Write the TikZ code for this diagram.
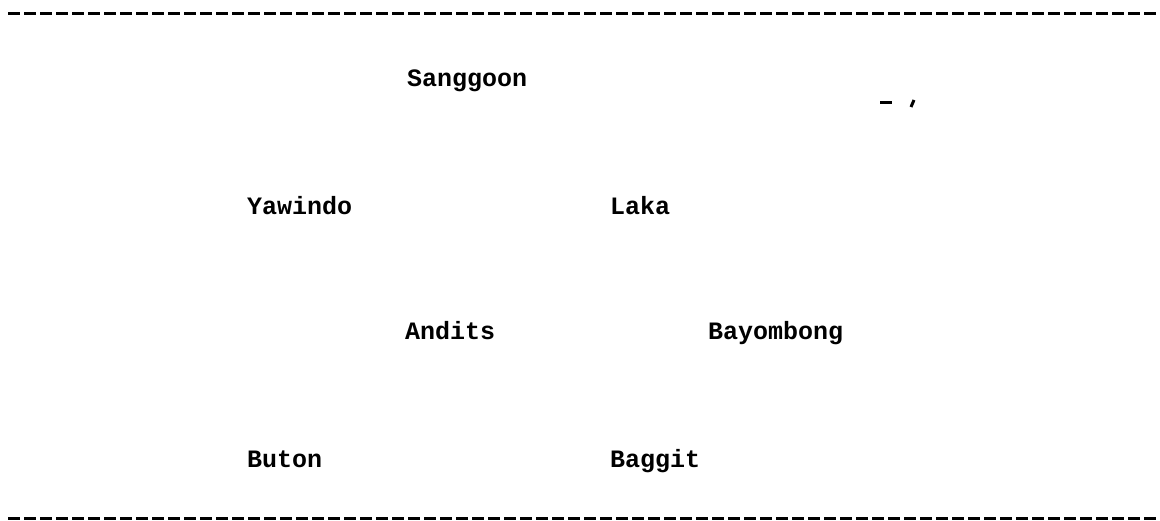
\documentclass[tikz,border=0pt]{standalone}
\usepackage{fontspec}
\setmonofont{Liberation Mono}
\begin{document}
\begin{tikzpicture}[x=1pt,y=-1pt,
  lbl/.style={inner sep=0pt,anchor=base west,font=\ttfamily\bfseries\fontsize{25}{25}\selectfont},
  rule/.style={line width=3pt,dash pattern=on 12pt off 4pt}]
\useasboundingbox (0,0) rectangle (1160,521);
\coordinate (t1) at (8,14);
\coordinate (t2) at (1160,14);
\coordinate (b1) at (8,518);
\coordinate (b2) at (1160,518);
\draw[rule] (t1) -- (t2);
\draw[rule] (b1) -- (b2);
\node[lbl] (sanggoon) at (407,87) {Sanggoon};
\node[lbl] (yawindo) at (247,215) {Yawindo};
\node[lbl] (laka) at (610,215) {Laka};
\node[lbl] (andits) at (405,340) {Andits};
\node[lbl] (bayombong) at (708,340) {Bayombong};
\node[lbl] (buton) at (247,467) {Buton};
\node[lbl] (baggit) at (610,467) {Baggit};
\coordinate (m1) at (880,103);
\coordinate (m2) at (892,103);
\coordinate (s1) at (911,107);
\coordinate (s2) at (914,100);
\draw[line width=3pt] (m1) -- (m2);
\draw[line width=3pt] (s1) -- (s2);
\end{tikzpicture}
\end{document}
